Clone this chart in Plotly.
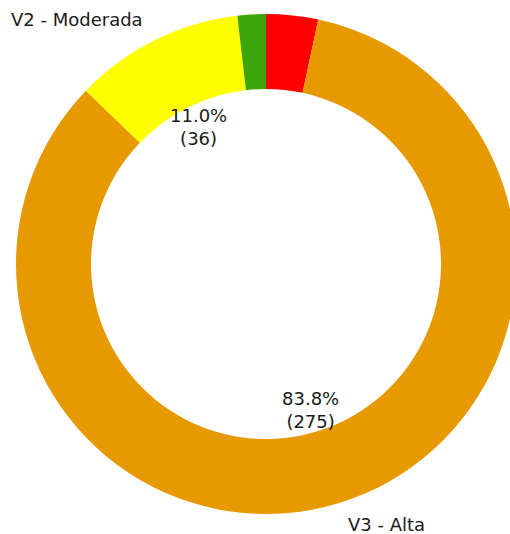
import math
import plotly.graph_objects as go

# Data (clockwise from 12 o'clock)
labels = ["V4", "V3 - Alta", "V2 - Moderada", "V1"]
values = [11, 275, 36, 6]
colors = ["#FF0000", "#E69A00", "#FFFF00", "#3DA60A"]
show_outer_label = [False, True, True, False]
show_pct = [False, True, True, False]

W, H = 532, 534
CX, CY, R = 266, 264, 250  # pixel centre (from top) and radius
FONT = dict(family="DejaVu Sans", size=18, color="#1a1a1a")

fig = go.Figure(go.Pie(
    labels=labels, values=values, sort=False, direction="clockwise", rotation=0,
    hole=0.7, textinfo="none", hoverinfo="label+value+percent",
    marker=dict(colors=colors, line=dict(width=0)),
    domain=dict(x=[0, 1], y=[(H - CY - R) / H, (H - CY + R) / H]),
    showlegend=False,
))

total = sum(values)
cum = 0
annotations = []
for lab, v, so, sp in zip(labels, values, show_outer_label, show_pct):
    mid = (cum + v / 2) / total * 2 * math.pi
    cum += v
    sx, cy = math.sin(mid), math.cos(mid)
    if sp:
        r = 0.61 * R
        annotations.append(dict(
            x=(CX + r * sx) / W, y=(H - CY + r * cy) / H, xref="paper", yref="paper",
            text=f"{v / total * 100:.1f}%<br>({v})", showarrow=False,
            xanchor="center", yanchor="middle", font=FONT, align="center"))
    if so:
        r = 1.09 * R
        annotations.append(dict(
            x=(CX + r * sx) / W, y=(H - CY + r * cy) / H, xref="paper", yref="paper",
            text=lab, showarrow=False,
            xanchor="left" if sx > 0 else "right", yanchor="middle", font=FONT))

fig.update_layout(
    width=W, height=H, margin=dict(l=0, r=0, t=0, b=0),
    paper_bgcolor="white", plot_bgcolor="white",
    annotations=annotations,
)

fig.write_html("out.html", config={"displayModeBar": False}, post_script=(
    "document.body.style.margin='0';document.body.style.overflow='hidden';"
    "document.documentElement.style.overflow='hidden';"))
